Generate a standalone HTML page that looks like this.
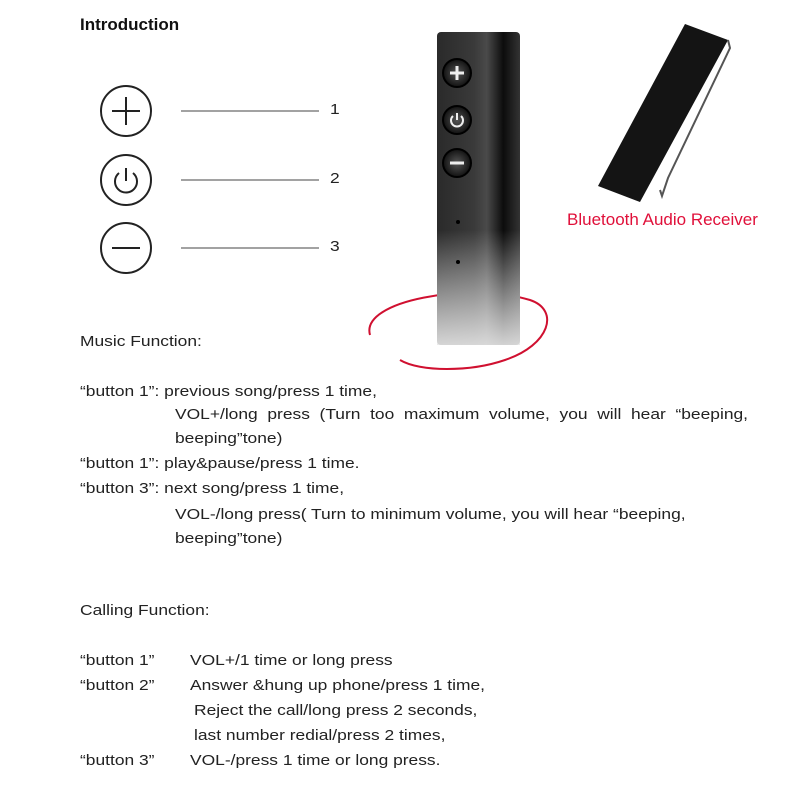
<!DOCTYPE html>
<html><head><meta charset="utf-8"><style>
body{margin:0;background:#fff;}
.t{position:absolute;font-family:"Liberation Sans",sans-serif;font-size:14.5px;color:#222;white-space:nowrap;transform:scaleX(1.2);transform-origin:0 0;}
</style></head><body>
<div style="position:relative;width:800px;height:800px;overflow:hidden">
<svg width="800" height="800" style="position:absolute;left:0;top:0">
<defs>
<linearGradient id="g" x1="0" x2="1" y1="0" y2="0">
<stop offset="0" stop-color="#2a2a2a"/><stop offset="0.45" stop-color="#3a3a3a"/><stop offset="0.6" stop-color="#4a4a4a"/><stop offset="0.8" stop-color="#0c0c0c"/><stop offset="1" stop-color="#333"/>
</linearGradient>
<linearGradient id="fade" x1="0" x2="0" y1="0" y2="1">
<stop offset="0" stop-color="#fff" stop-opacity="0"/><stop offset="1" stop-color="#e8e8e8" stop-opacity="0.9"/>
</linearGradient>
<radialGradient id="b"><stop offset="0" stop-color="#555"/><stop offset="1" stop-color="#111"/></radialGradient>
</defs>
<g fill="none" stroke="#222" stroke-width="2">
<circle cx="126" cy="111" r="25"/><circle cx="126" cy="180" r="25"/><circle cx="126" cy="248" r="25"/>
<path d="M112 111h28M126 97v28M112 248h28"/>
<path d="M119 173a11 11 0 1 0 14 0M126 168v13"/>
</g>
<g stroke="#444" stroke-width="1"><path d="M181 111h138M181 180h138M181 248h138"/></g>
<path d="M370 335 C 360 300, 470 282, 530 300 C 560 310, 550 345, 505 360 C 470 372, 420 372, 400 360" fill="none" stroke="#d01030" stroke-width="2"/>
<rect x="437" y="32" width="83" height="313" rx="4" fill="url(#g)"/>
<rect x="437" y="230" width="83" height="115" fill="url(#fade)"/>
<g fill="url(#b)" stroke="#000" stroke-width="2">
<circle cx="457" cy="73" r="14"/><circle cx="457" cy="120" r="14"/><circle cx="457" cy="163" r="14"/></g>
<g stroke="#eee" stroke-width="3" fill="none"><path d="M450 73h14M457 66v14M450 163h14"/><path d="M453 116a6 6 0 1 0 8 0M457 113v7" stroke-width="2"/></g>
<circle cx="458" cy="222" r="2" fill="#000"/><circle cx="458" cy="262" r="2" fill="#000"/>
<polygon points="685,24 728,40 640,202 598,186" fill="#141414"/>
<path d="M728 40 L730 48 L668 178 L662 196 L660 190" fill="none" stroke="#555" stroke-width="2"/>
</svg>
<div class="t" style="left:80px;top:15px;font-weight:bold;font-size:17px;color:#111;transform:none">Introduction</div>
<div class="t" style="left:330px;top:102px">1</div>
<div class="t" style="left:330px;top:171px">2</div>
<div class="t" style="left:330px;top:239px">3</div>
<div class="t" style="left:567px;top:210px;color:#e0103a;font-size:17px;transform:none">Bluetooth Audio Receiver</div>
<div class="t" style="left:80px;top:334px">Music Function:</div>
<div class="t" style="left:80px;top:384px">“button 1”: previous song/press 1 time,</div>
<div class="t" style="left:175px;top:407px;word-spacing:4px">VOL+/long press (Turn too maximum volume, you will hear “beeping,</div>
<div class="t" style="left:175px;top:431px">beeping”tone)</div>
<div class="t" style="left:80px;top:456px">“button 1”: play&amp;pause/press 1 time.</div>
<div class="t" style="left:80px;top:481px">“button 3”: next song/press 1 time,</div>
<div class="t" style="left:175px;top:507px">VOL-/long press( Turn to minimum volume, you will hear “beeping,</div>
<div class="t" style="left:175px;top:531px">beeping”tone)</div>
<div class="t" style="left:80px;top:603px">Calling Function:</div>
<div class="t" style="left:80px;top:653px">“button 1”</div><div class="t" style="left:190px;top:653px">VOL+/1 time or long press</div>
<div class="t" style="left:80px;top:678px">“button 2”</div><div class="t" style="left:190px;top:678px">Answer &amp;hung up phone/press 1 time,</div>
<div class="t" style="left:194px;top:703px">Reject the call/long press 2 seconds,</div>
<div class="t" style="left:194px;top:728px">last number redial/press 2 times,</div>
<div class="t" style="left:80px;top:753px">“button 3”</div><div class="t" style="left:190px;top:753px">VOL-/press 1 time or long press.</div>
</div>
</body></html>
